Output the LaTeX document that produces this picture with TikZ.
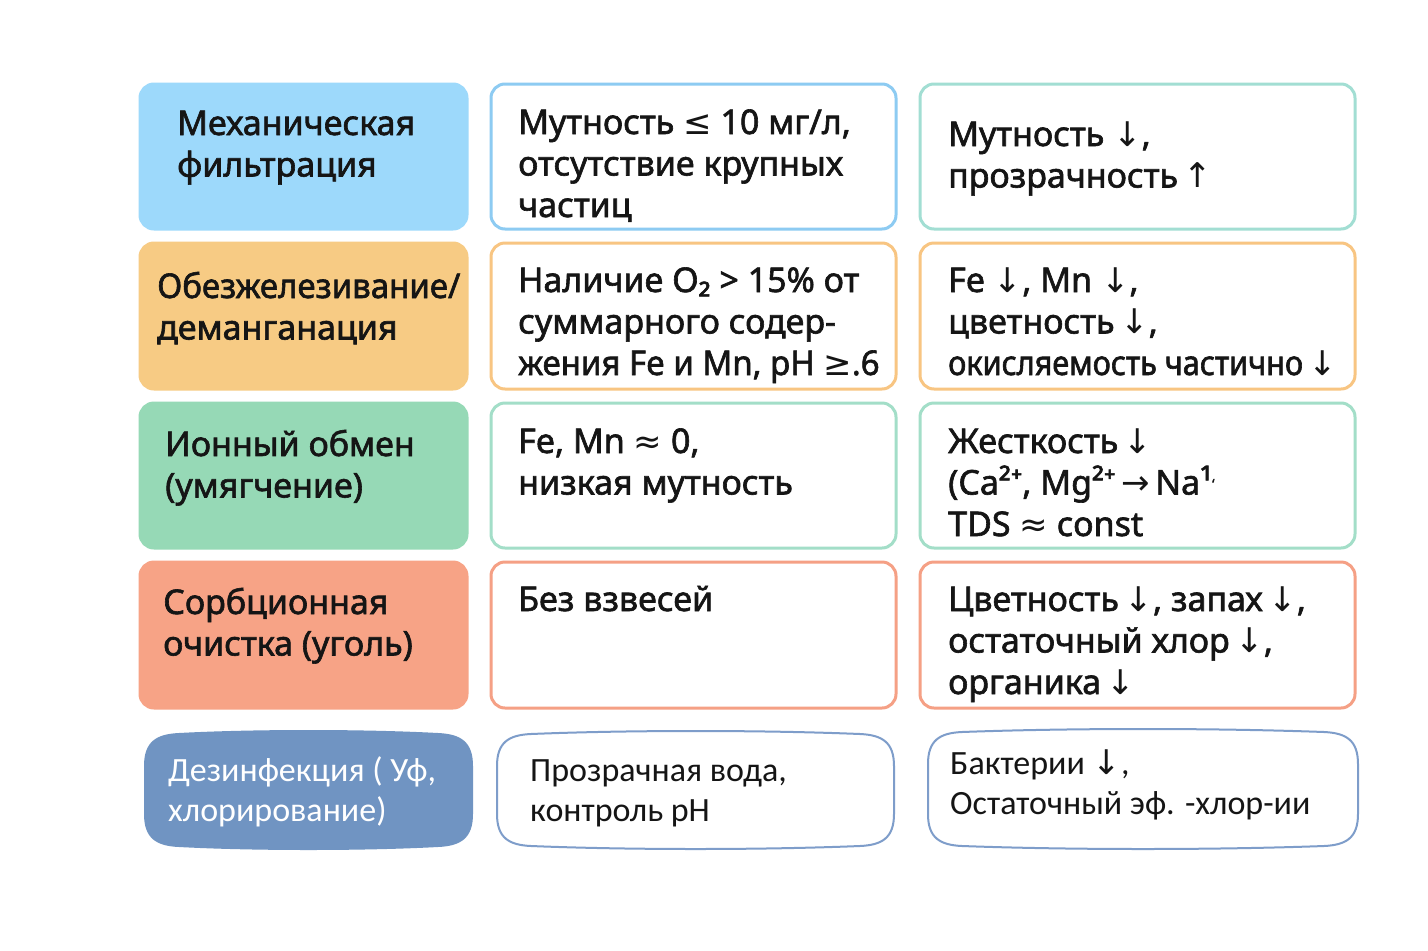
\documentclass[tikz,border=0pt]{standalone}
\usepackage{fontspec}
\setmainfont{Noto Sans}[FakeBold=1.8]
\newfontfamily\symf{DejaVu Sans}
\newfontfamily\calf{Carlito}
\newcommand\sy[1]{{\symf #1}}
\newcommand\tl[1]{\begin{tabular}[t]{@{}l@{}}#1\end{tabular}}
\newcommand\bulgebox[5]{%
  \draw[#5] (#1,#2+36) .. controls (#1,#2+12) and (#1+12,#2+5) .. (#1+34,#2+4)
    .. controls ({#1+(#3-#1)/3},#2) and ({#3-(#3-#1)/3},#2) .. (#3-34,#2+4)
    .. controls (#3-12,#2+5) and (#3,#2+12) .. (#3,#2+36)
    -- (#3,#4-36)
    .. controls (#3,#4-12) and (#3-12,#4-5) .. (#3-34,#4-4)
    .. controls ({#3-(#3-#1)/3},#4) and ({#1+(#3-#1)/3},#4) .. (#1+34,#4-4)
    .. controls (#1+12,#4-5) and (#1,#4-12) .. (#1,#4-36) -- cycle;}
\definecolor{bluef}{HTML}{9DD9FB}
\definecolor{blueb}{HTML}{8DCBF2}
\definecolor{orangef}{HTML}{F7CB84}
\definecolor{orangeb}{HTML}{F8C582}
\definecolor{greenf}{HTML}{96D9B6}
\definecolor{greenb}{HTML}{A3DEC8}
\definecolor{tealb}{HTML}{A2DED3}
\definecolor{salmonf}{HTML}{F7A386}
\definecolor{salmonb}{HTML}{F5A085}
\definecolor{darkf}{HTML}{7094C2}
\definecolor{darkb}{HTML}{7E9DCA}
\definecolor{txt}{HTML}{151515}
\begin{document}
\begin{tikzpicture}[x=1pt,y=-1pt,
  cell/.style={rounded corners=14pt,line width=3pt},
  lastcell/.style={line width=2pt},
  tx/.style={anchor=base west,inner sep=0pt,text=txt,font=\fontsize{34}{41.5}\selectfont},
  txs/.style={anchor=base west,inner sep=0pt,text=txt,font=\calf\fontsize{34}{40.5}\selectfont}]
\useasboundingbox[fill=white] (0,0) rectangle (1428,951);
% row 1
\draw[cell,fill=bluef,draw=bluef] (140,84) rectangle (467,229);
\draw[cell,draw=blueb,fill=white] (491,84) rectangle (896,229);
\draw[cell,draw=tealb,fill=white] (920,84) rectangle (1355,229);
% row 2
\draw[cell,fill=orangef,draw=orangef] (140,243) rectangle (467,389);
\draw[cell,draw=orangeb,fill=white] (491,243) rectangle (896,389);
\draw[cell,draw=orangeb,fill=white] (920,243) rectangle (1355,389);
% row 3
\draw[cell,fill=greenf,draw=greenf] (140,403) rectangle (467,548);
\draw[cell,draw=greenb,fill=white] (491,403) rectangle (896,548);
\draw[cell,draw=greenb,fill=white] (920,403) rectangle (1355,548);
% row 4
\draw[cell,fill=salmonf,draw=salmonf] (140,562) rectangle (467,708);
\draw[cell,draw=salmonb,fill=white] (491,562) rectangle (896,708);
\draw[cell,draw=salmonb,fill=white] (920,562) rectangle (1355,708);
% row 5
\bulgebox{145}{730}{472}{850}{lastcell,fill=darkf,draw=darkf}
\bulgebox{497}{730}{894}{850}{lastcell,draw=darkb,fill=white}
\bulgebox{928}{728}{1358}{850}{lastcell,draw=darkb,fill=white}
% texts
\node[tx] (t11) at (177,135) {\tl{Механическая\\фильтрация}};
\node[tx] (t12) at (518,134) {\tl{Мутность \sy{≤} 10 мг/л,\\отсутствие крупных\\частиц}};
\node[tx] (t13) at (948,146) {\tl{Мутность \sy{↓},\\прозрачность\,\sy{↑}}};
\node[tx] (t21) at (157,298) {\tl{\addfontfeature{FakeStretch=0.97}Обезжелезивание/\\деманганация}};
\node[tx] (t22) at (518,292) {\tl{Наличие O₂ > 15\% от\\суммарного содер-\\\addfontfeature{FakeStretch=0.97}жения Fe и Mn, pH \sy{≥}.6}};
\node[tx] (t23) at (948,292) {\tl{Fe \sy{↓}, Mn \sy{↓},\\цветность\,\sy{↓},\\\addfontfeature{FakeStretch=0.9}окисляемость частично\,\sy{↓}}};
\node[tx] (t31) at (165,456) {\tl{Ионный обмен\\(умягчение)}};
\node[tx] (t32) at (518,453) {\tl{Fe, Mn \sy{≈} 0,\\низкая мутность}};
\node[tx] (t33) at (948,453) {\tl{Жесткость\,\sy{↓}\\(Ca²⁺, Mg²⁺\,\sy{→}\,Na¹\raisebox{0.3ex}{\fontsize{14}{14}\selectfont`}\\TDS \sy{≈} const}};
\node[tx] (t41) at (163,614) {\tl{Сорбционная\\очистка (уголь)}};
\node[tx] (t42) at (518,611) {Без взвесей};
\node[tx] (t43) at (948,611) {\tl{Цветность\,\sy{↓}, запах\,\sy{↓},\\остаточный хлор\,\sy{↓},\\органика\,\sy{↓}}};
\node[txs,text=white] (t51) at (168,781) {\tl{Дезинфекция ( Уф,\\хлорирование)}};
\node[txs] (t52) at (530,781) {\tl{Прозрачная вода,\\контроль pH}};
\node[txs] (t53) at (950,774) {\tl{Бактерии \sy{↓},\\Остаточный эф. -хлор-ии}};
\end{tikzpicture}
\end{document}
